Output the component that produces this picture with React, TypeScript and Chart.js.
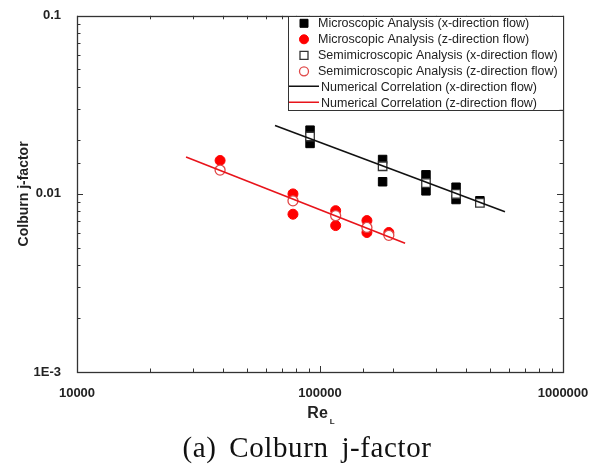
import React, { useEffect, useRef } from "react";
import { Chart, registerables } from "chart.js";

Chart.register(...registerables);

// ---- data ----
const seriesNames = [
  "Microscopic Analysis (x-direction flow)",
  "Microscopic Analysis (z-direction flow)",
  "Semimicroscopic Analysis (x-direction flow)",
  "Semimicroscopic Analysis (z-direction flow)",
  "Numerical Correlation (x-direction flow)",
  "Numerical Correlation (z-direction flow)",
];

const reMicroX = [91000, 91000, 181000, 181000, 273000, 273000, 363000, 363000, 455000];
const jMicroX = [0.0228, 0.0192, 0.0156, 0.0117, 0.0128, 0.0104, 0.0109, 0.0093, 0.00915];

const reMicroZ = [38800, 77400, 77400, 116000, 116000, 156000, 156000, 192000];
const jMicroZ = [0.0154, 0.01, 0.00769, 0.00805, 0.00664, 0.00708, 0.00607, 0.00607];

const reSemiX = [91000, 181000, 273000, 363000, 455000];
const jSemiX = [0.021, 0.0143, 0.0115, 0.01, 0.0089];

const reSemiZ = [38800, 77400, 116000, 156000, 192000];
const jSemiZ = [0.0136, 0.00914, 0.00755, 0.00648, 0.00585];

const reCorrX = [65300, 577000];
const jCorrX = [0.0242, 0.00794];

const reCorrZ = [28100, 224000];
const jCorrZ = [0.0161, 0.00528];

const xTickValues = [10000, 100000, 1000000];
const xTickLabels = ["10000", "100000", "1000000"];
const yTickValues = [0.001, 0.01, 0.1];
const yTickLabels = ["1E-3", "0.01", "0.1"];

const xTitleMain = "Re";
const xTitleSub = "L";
const yTitle = "Colburn j-factor";
const caption = "(a) Colburn j-factor";

const FONT = "'Liberation Sans', Arial, sans-serif";

const pts = (xs: number[], ys: number[]) => xs.map((x, i) => ({ x, y: ys[i] }));

const labelFor = (vals: number[], labels: string[], v: number) => {
  for (let i = 0; i < vals.length; i++) {
    if (Math.abs(Math.log10(v) - Math.log10(vals[i])) < 1e-6) return labels[i];
  }
  return "";
};

const isMajor = (v: number) => Math.abs(Math.log10(v) - Math.round(Math.log10(v))) < 1e-6;

const framePlugin = {
  id: "frameTicks",
  afterDatasetsDraw(chart: any) {
    const { ctx, chartArea: a, scales } = chart;
    const xs = scales.x;
    const ys = scales.y;
    ctx.save();
    ctx.strokeStyle = "#333";
    ctx.lineWidth = 1;
    ctx.beginPath();
    xs.ticks.forEach((t: any) => {
      const v = t.value;
      if (v < xs.min * 0.999 || v > xs.max * 1.001) return;
      const px = Math.round(xs.getPixelForValue(v)) + 0.5;
      const len = isMajor(v) ? 6 : 3.5;
      ctx.moveTo(px, a.bottom);
      ctx.lineTo(px, a.bottom - len);
      ctx.moveTo(px, a.top);
      ctx.lineTo(px, a.top + len);
    });
    ys.ticks.forEach((t: any) => {
      const v = t.value;
      if (v < ys.min * 0.999 || v > ys.max * 1.001) return;
      const py = Math.round(ys.getPixelForValue(v)) + 0.5;
      const len = isMajor(v) ? 6 : 3.5;
      ctx.moveTo(a.left, py);
      ctx.lineTo(a.left + len, py);
      ctx.moveTo(a.right, py);
      ctx.lineTo(a.right - len, py);
    });
    ctx.stroke();
    ctx.lineWidth = 1.3;
    ctx.strokeStyle = "#333";
    ctx.strokeRect(Math.round(a.left) + 0.5, Math.round(a.top) + 0.5, Math.round(a.right - a.left), Math.round(a.bottom - a.top));

    // x axis title with subscript
    ctx.fillStyle = "#222";
    ctx.textBaseline = "alphabetic";
    ctx.font = `bold 16px ${FONT}`;
    const wMain = ctx.measureText(xTitleMain).width;
    ctx.font = `bold 8px ${FONT}`;
    const wSub = ctx.measureText(xTitleSub).width;
    const total = wMain + 2 + wSub;
    const cx = (a.left + a.right) / 2 + 1;
    const x0 = cx - total / 2;
    ctx.font = `bold 16px ${FONT}`;
    ctx.textAlign = "left";
    ctx.fillText(xTitleMain, x0, a.bottom + 46);
    ctx.font = `bold 8px ${FONT}`;
    ctx.fillText(xTitleSub, x0 + wMain + 2, a.bottom + 52);

    // caption
    ctx.font = `29px 'Liberation Serif', 'Times New Roman', serif`;
    (ctx as any).letterSpacing = "0.6px";
    (ctx as any).wordSpacing = "5px";
    ctx.fillStyle = "#111";
    ctx.textAlign = "center";
    ctx.fillText(caption, cx - 14, a.bottom + 85);
    (ctx as any).letterSpacing = "0px";
    (ctx as any).wordSpacing = "0px";
    ctx.restore();
  },
};

const legendPlugin = {
  id: "boxLegend",
  afterDraw(chart: any) {
    const { ctx, chartArea: a } = chart;
    const right = a.right;
    const left = right - 275;
    const top = a.top;
    const bottom = top + 94;
    ctx.save();
    ctx.fillStyle = "#fff";
    ctx.fillRect(left, top, right - left, bottom - top);
    ctx.strokeStyle = "#333";
    ctx.lineWidth = 1;
    ctx.strokeRect(Math.round(left) + 0.5, Math.round(top) + 0.5, Math.round(right - left), Math.round(bottom - top));
    ctx.beginPath();
    ctx.rect(left, top, right - left, bottom - top);
    ctx.clip();
    ctx.font = `12.5px ${FONT}`;
    ctx.textBaseline = "middle";
    ctx.textAlign = "left";
    chart.data.datasets.forEach((ds: any, i: number) => {
      const y = top + 7.5 + i * 16;
      const mx = left + 16;
      if (ds.showLine) {
        ctx.strokeStyle = ds.borderColor;
        ctx.lineWidth = ds.borderWidth;
        ctx.beginPath();
        ctx.moveTo(left + 1, y - 1);
        ctx.lineTo(left + 31, y - 1);
        ctx.stroke();
        ctx.fillStyle = "#222";
        ctx.fillText(ds.label, left + 33, y);
      } else {
        ctx.fillStyle = ds.backgroundColor;
        ctx.strokeStyle = ds.borderColor;
        ctx.lineWidth = ds.borderWidth;
        ctx.beginPath();
        if (ds.pointStyle === "rect") {
          ctx.rect(mx - 4, y - 4, 8, 8);
        } else {
          ctx.arc(mx, y, 4.5, 0, Math.PI * 2);
        }
        ctx.fill();
        ctx.stroke();
        ctx.fillStyle = "#222";
        ctx.fillText(ds.label, left + 30, y);
      }
    });
    ctx.restore();
  },
};

export default function App() {
  const ref = useRef<HTMLCanvasElement | null>(null);

  useEffect(() => {
    if (!ref.current) return;
    const chart = new Chart(ref.current, {
      type: "scatter",
      data: {
        datasets: [
          {
            label: seriesNames[0],
            data: pts(reMicroX, jMicroX),
            pointStyle: "rect",
            pointRadius: 6,
            backgroundColor: "#000",
            borderColor: "#000",
            borderWidth: 1,
            order: 3,
          },
          {
            label: seriesNames[1],
            data: pts(reMicroZ, jMicroZ),
            pointStyle: "circle",
            pointRadius: 5,
            backgroundColor: "#ff0000",
            borderColor: "#ff0000",
            borderWidth: 1,
            order: 3,
          },
          {
            label: seriesNames[2],
            data: pts(reSemiX, jSemiX),
            pointStyle: "rect",
            pointRadius: 6,
            backgroundColor: "#fff",
            borderColor: "#333",
            borderWidth: 1.3,
            order: 2,
          },
          {
            label: seriesNames[3],
            data: pts(reSemiZ, jSemiZ),
            pointStyle: "circle",
            pointRadius: 5,
            backgroundColor: "#fff",
            borderColor: "#e04848",
            borderWidth: 1.3,
            order: 2,
          },
          {
            label: seriesNames[4],
            data: pts(reCorrX, jCorrX),
            showLine: true,
            pointRadius: 0,
            borderColor: "#111",
            backgroundColor: "#111",
            borderWidth: 1.6,
            order: 1,
          },
          {
            label: seriesNames[5],
            data: pts(reCorrZ, jCorrZ),
            showLine: true,
            pointRadius: 0,
            borderColor: "#e8141b",
            backgroundColor: "#e8141b",
            borderWidth: 1.6,
            order: 1,
          },
        ],
      },
      options: {
        animation: false,
        responsive: true,
        maintainAspectRatio: false,
        layout: { padding: { top: 10, right: 40, left: 0, bottom: 0 } },
        plugins: {
          legend: { display: false },
          tooltip: { enabled: false },
          title: { display: false },
        },
        scales: {
          x: {
            type: "logarithmic",
            min: 10000,
            max: 1000000,
            grid: { display: false },
            border: { display: false },
            ticks: {
              autoSkip: false,
              maxRotation: 0,
              padding: 6,
              color: "#222",
              font: { family: FONT, size: 13, weight: "bold" },
              callback: (v: any) => labelFor(xTickValues, xTickLabels, Number(v)),
            },
            afterFit: (s: any) => {
              s.height = 99;
            },
          },
          y: {
            type: "logarithmic",
            min: 0.001,
            max: 0.1,
            grid: { display: false },
            border: { display: false },
            ticks: {
              autoSkip: false,
              padding: 8,
              color: "#222",
              font: { family: FONT, size: 13, weight: "bold" },
              callback: (v: any) => labelFor(yTickValues, yTickLabels, Number(v)),
            },
            title: {
              display: true,
              text: yTitle,
              color: "#222",
              font: { family: FONT, size: 14, weight: "bold" },
              padding: { top: 15.6, bottom: 0 },
            },
            afterFit: (s: any) => {
              s.width = 77;
            },
          },
        },
      },
      plugins: [framePlugin, legendPlugin],
    } as any);
    return () => chart.destroy();
  }, []);

  return (
    <div style={{ position: "absolute", left: 0, top: 0, width: 603, height: 471, background: "#fff" }}>
      <canvas ref={ref} />
    </div>
  );
}
